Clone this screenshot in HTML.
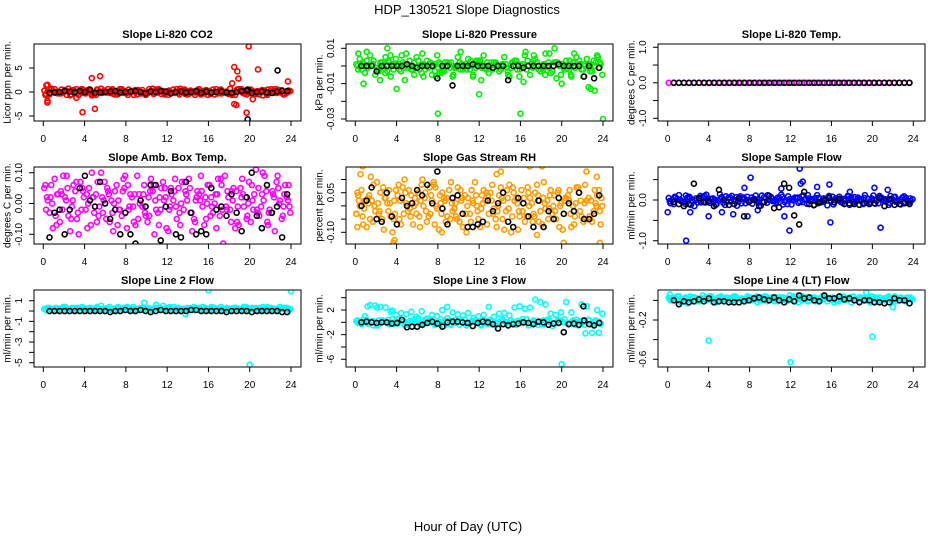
<!DOCTYPE html>
<html><head><meta charset="utf-8"><style>
body{margin:0;background:#fff;}
svg{display:block;font-family:"Liberation Sans",Arial,sans-serif;}
</style></head><body>
<svg id="chart" width="936" height="540" viewBox="0 0 936 540" xmlns="http://www.w3.org/2000/svg">
<rect width="936" height="540" fill="#fff"/>
<text x="467" y="14" font-size="13" text-anchor="middle">HDP_130521  Slope Diagnostics</text>
<text x="468" y="531" font-size="13" text-anchor="middle">Hour of Day (UTC)</text>
</svg>
<script>
// ---- data (value arrays; band arrays at half-hour spacing) ----
const xTicks=[0,4,8,12,16,20,24];
// Panel 1: CO2 (tenths of ppm)
const co2A=[3,-5,6,-2,4,-7,1,5,-3,2,-6,7,-1,3,-4,6,-2,1,-5,4,-3,7,-1,2,-6,5,-2,3,-4,1,6,-3,2,-5,4,-1,7,-6,3,-2,5,-4,1,-3,6,-2,4,-1];
const co2B=[-4,7,-2,5,-6,1,-3,6,2,-5,4,-1,6,-4,3,-2,5,-6,2,-1,6,-3,4,-5,1,-2,7,-4,3,-1,-5,4,-2,6,-3,1,-6,5,-1,3,-4,2,-7,5,-2,1,-5,3];
const co2C=[1,2,-3,-1,7,4,-6,-2,5,-4,1,3,-2,-5,6,2,-1,4,-3,-6,2,5,-4,1,-2,6,3,-5,-1,4,2,-6,5,-3,1,-4,-2,6,-3,4,1,-5,3,-2,6,-1,-4,2];
const co2D=[-6,4,0,-3,2,-5,6,-1,3,-7,5,-2,0,6,-5,3,-6,2,4,-3,0,-4,6,-2,3,-1,-5,5,2,-6,1,3,-4,0,5,-2,-4,1,6,-5,2,-2,4,-6,1,5,-3,0];
const co2OutX=[0.4,0.4,0.4,3.8,4.7,5,5.5,3.2,18.3,18.5,18.5,18.7,18.8,18.9,19.7,19.9,20.3,20.8,23.7,0.3];
const co2OutY=[15,-18,-22,-42,29,-35,33,-12,18,52,-25,-27,43,28,-43,95,-15,47,22,14];
const co2Black=[-2,-1,0,2,1,-1,2,0,5,-2,-1,0,1,2,-1,0,1,2,0,-3,1,0,2,1,-3,0,1,-1,0,2,-2,1,-1,0,1,-1,-2,0,2,3,-2,0,1,-1,-2,1,2,2];
const co2BOutX=[19.8,22.7,19.8];
const co2BOutY=[-57,45,5];
// Panel 2: pressure (thousandths kPa)
const prA=[1,-2,3,0,-1,2,-3,1,0,2,-1,-2,3,1,-1,0,2,-3,1,-1,2,0,-2,1,3,-1,0,2,-2,1,-1,3,0,-2,1,2,-1,0,-3,2,1,-1,2,0,-2,1,3,-1];
const prB=[-2,1,0,3,-3,-1,2,0,-2,1,3,-1,0,-2,2,1,-3,0,2,-1,1,-2,0,3,-1,2,-2,0,1,-3,2,1,-1,0,3,-2,1,-1,2,0,-2,3,-1,1,0,-3,2,1];
const prC=[4,-4,6,-5,2,5,-6,4,-3,7,-2,5,-4,3,-5,6,-3,2,-6,5,-2,4,-5,3,6,-4,2,-3,5,-6,3,-2,6,-5,4,-3,7,-4,2,-5,3,-6,5,-2,4,-3,6,-5];
const prD=[0,2,-1,1,-2,0,3,-2,1,-1,0,2,-2,0,1,-3,1,2,-1,0,-2,1,3,-1,0,-2,2,1,0,-1,2,-2,1,3,-1,0,-2,2,0,1,-1,-2,0,3,1,-1,0,2];
const prOutX=[0.3,0.8,1.1,2.4,2.9,3.1,3.4,4,4.5,4.8,5.7,6.5,6.6,7.8,8,8.3,9.5,10.2,11.4,12,12.2,14.8,15.9,16,16.3,16.5,17.3,18.4,18.8,19.3,19.5,20,20.9,21.2,22.1,22.6,22.8,23.2,23.5,24];
const prOutY=[7,-10,8,-8,-4,10,6,-13,6,-8,-5,7,-6,-6,-27,-4,-5,8,-6,-16,-8,-5,-6,-27,-9,8,6,-5,7,10,-7,-10,-5,7,-6,-12,-13,-14,5,-30];
const prBlack=[0,0,0,-3,0,0,0,0,0,1,0,-1,0,0,0,-7,0,0,-11,0,0,0,1,0,0,0,-1,0,0,-8,0,0,-1,0,0,0,0,0,0,1,0,0,0,0,-6,0,-7,-1];
// Panel 3: Li-820 temp (degC)
const ltA=[0,0,0,0,0,0,0,0,0,0,0,0,0,0,0,0,0,0,0,0,0,0,0,0,0,0,0,0,0,0,0,0,0,0,0,0,0,0,0,0,0,0,0,0,0,0,0,0];
const ltBlack=[0,0,0,0,0,0,0,0,0,0,0,0,0,0,0,0,0,0,0,0,0,0,0,0,0,0,0,0,0,0,0,0,0,0,0,0,0,0,0,0,0,0,0,0,0,0,0,0];
// Panel 4: amb box temp (hundredths degC)
const btA=[5,-3,8,-6,2,-9,4,7,-2,-7,3,10,-5,1,6,-4,-8,2,9,-1,-6,4,-3,7,-9,1,5,-2,8,-5,3,-7,6,0,-4,9,-2,-8,5,2,-6,11,-1,4,-3,7,-5,2];
const btB=[-2,6,-7,3,9,-1,-5,5,-8,2,7,-3,4,-9,1,8,-2,-6,3,6,-4,-10,2,5,-1,8,-7,4,-3,1,9,-5,2,-8,6,-2,4,-6,8,-4,1,-3,10,-7,3,5,-1,6];
const btC=[1,-8,3,9,-4,6,-10,2,5,-3,-1,7,-6,4,-2,9,3,-7,1,-4,8,-2,5,-8,3,-5,7,1,-9,4,-1,6,-3,8,-13,2,5,-7,-1,7,3,-4,9,-2,-9,1,6,-3];
const btD=[6,2,-4,4,1,-5,7,-2,3,10,-6,2,5,-3,-7,4,6,-1,-5,3,2,6,-7,1,-2,4,-3,7,5,-6,1,2,-4,3,8,-1,-6,4,2,-5,6,-2,3,-6,4,9,-4,1];
const btE=[2,0,3,-2,5,1,-3,4,0,2,-4,1,3,0,-2,5,-1,3,0,-3,4,1,-2,2,5,-1,0,3,-3,2,4,0,-1,3,-2,4,1,-1,3,0,-2,5,1,-3,2,0,3,-1];
const btBlack=[-11,-3,-2,-10,-2,-14,5,9,1,-1,7,0,-5,-2,-10,-3,-10,-13,1,-1,6,6,-12,-1,4,-10,-11,7,-3,-10,-9,-10,5,-2,-1,-4,3,-3,-9,2,10,-4,-8,6,-3,-1,-11,3];
// Panel 5: gas stream RH (hundredths %)
const rhA=[-3,6,-8,2,9,-5,1,-10,4,7,-2,-7,5,0,-4,8,-9,3,6,-1,-6,4,-3,9,-8,2,5,-5,7,-2,-10,3,6,-4,1,8,-7,2,-3,5,-9,4,0,7,-6,3,-2,6];
const rhB=[4,-7,1,8,-3,-9,6,2,-5,10,-1,3,-8,5,-3,7,1,-6,9,-4,2,-10,6,0,4,-7,8,-2,-5,3,7,-9,1,5,-3,-6,9,-1,4,-8,2,6,-4,-2,8,-5,1,-7];
const rhC=[0,2,-5,-2,5,3,-4,6,-7,1,4,-3,8,-6,2,-1,5,-4,-2,7,-8,3,1,-5,6,-3,-1,4,-9,8,2,-4,-6,3,5,-2,-1,6,-5,1,3,-8,7,-4,2,-6,4,0];
const rhD=[5,-4,3,-6,1,7,-2,-5,8,-3,6,0,-4,3,7,-7,4,2,-5,1,6,-3,-6,4,-1,5,2,-8,3,6,-4,1,-2,7,-6,4,3,-5,0,6,-3,2,-7,5,1,-4,6,-2];
const rhE=[2,-1,4,0,-2,3,1,-3,2,5,-4,1,2,-2,4,0,-3,3,1,-5,3,0,2,-2,1,4,-3,0,2,-1,5,-2,3,0,-4,2,1,4,-2,0,3,-3,1,2,-5,2,0,3];
const rhOutX=[0.2,0.5,0.7,1.5,3.7,7.6,13.7,14.1,16.9,18.1,22.4,23.4,23.7,12.8,3.8,20.2,0.1,6.5,8.4,17.6];
const rhOutY=[-8,12,15,11,-14,9,12,13,15,15,13,11,-14,-17,-13,-14,-3,10,-10,-11];
const rhBlack=[0,2,7,-5,-6,5,-4,-7,3,0,1,6,4,8,1,13,-1,-7,3,4,-3,-8,-8,-7,-6,2,-2,1,5,-6,-8,3,1,-4,-8,2,-8,-2,-5,3,-3,1,-2,5,-5,-5,-3,4];
// Panel 6: sample flow (hundredths mL/min)
const sfA=[5,-10,12,-4,8,-15,3,10,-7,1,14,-12,6,-3,9,-8,-1,11,-14,4,7,-6,13,-2,-11,5,9,-9,2,12,-5,-13,8,0,-7,10,-4,6,-10,3,11,-8,1,-12,7,-3,9,-6];
const sfB=[-8,6,-2,11,-12,4,-6,13,2,-10,7,-4,10,-14,3,8,-9,1,-5,12,-3,6,-11,9,-1,-7,11,4,-13,5,-2,10,-6,8,3,-12,7,-1,12,-5,-9,6,2,10,-4,-11,5,-2];
const sfC=[0,3,-5,6,-2,-6,8,-3,4,-1,-7,5,1,-4,6,-2,3,-6,7,0,-3,4,-5,2,6,-4,1,-2,5,-6,3,-1,4,-5,2,7,-3,1,-6,4,-2,5,-1,3,-4,6,-3,2];
const sfD=[-3,8,1,-9,5,-1,10,-6,3,-12,2,9,-4,7,-8,0,6,-3,11,-7,4,-1,8,-10,2,6,-5,12,-2,-8,4,7,-11,3,-1,9,-6,2,5,-9,0,10,-3,-7,8,1,-5,4];
const sfOutX=[0,1.8,4,6.4,7.8,8.1,11.9,11.4,12.9,13,13.2,14.6,15.8,15.9,20.8,20.2,17.8,2.2,8.8,21.5,7.5,11.1,5.3];
const sfOutY=[-30,-100,-40,-35,-40,55,-75,-40,77,40,45,32,38,-55,-68,30,20,-30,-25,25,30,28,-30];
const sfBlack=[-5,-10,-15,-10,40,5,-5,-3,-15,25,0,-12,-10,5,-40,-5,0,-15,-5,10,-20,-18,40,30,-38,-60,20,-10,-12,-5,0,5,-5,3,-10,-8,-10,-12,-8,-10,-8,5,-15,2,-12,-10,-8,-10];
// Panel 7: line 2 flow (tenths mL/min)
const l2A=[2,3,1,2,4,2,3,1,2,3,2,5,2,1,3,2,4,2,1,3,2,2,3,5,2,1,3,2,2,4,3,1,2,3,2,1,2,3,2,4,2,3,1,2,3,2,2,3];
const l2B=[1,2,3,2,1,3,2,4,1,2,3,2,1,2,4,3,2,1,2,8,2,3,1,2,4,2,1,-3,2,3,1,2,4,2,1,3,2,2,1,3,2,1,4,2,1,2,3,1];
const l2C=[3,1,2,4,2,1,3,2,3,1,2,2,4,1,2,3,1,2,3,2,1,6,2,3,1,2,2,3,1,2,4,1,3,2,2,1,3,2,4,1,2,3,2,1,2,4,3,2];
const l2D=[2,2,3,1,3,2,1,3,2,2,4,1,3,2,1,2,3,4,2,1,3,2,2,1,3,4,2,1,3,2,2,3,1,2,4,2,1,3,2,2,3,1,2,4,2,1,3,2];
const l2OutX=[16,20,24];
const l2OutY=[20,-52,19];
const l2Black=[0,0,0,0,0,0,0,0,0,0,0,0,-1,0,0,1,0,0,1,0,-1,0,1,0,0,0,0,0,1,1,0,0,0,0,0,-1,0,0,0,0,-1,0,0,0,0,0,-1,-1];
// Panel 8: line 3 flow (tenths mL/min)
const l3A=[2,-3,4,0,-5,3,-1,5,-2,1,-4,2,6,-3,0,4,-2,-6,3,1,-4,5,-1,2,-3,0,4,-5,2,-1,3,-4,1,5,-2,0,-3,4,-6,2,1,-2,3,-5,0,4,-3,1];
const l3B=[-1,4,-2,-5,3,1,-3,0,5,-4,2,-1,-3,4,0,-2,5,1,-4,-1,3,-5,2,0,4,-3,1,-2,5,-4,0,2,-1,-5,3,1,-3,4,-2,0,5,-1,-4,2,1,-3,3,-2];
const l3D=[3,0,-2,2,-4,1,4,-3,0,2,-1,5,-2,1,3,-4,0,2,-3,4,1,-2,0,3,-5,2,1,-1,4,0,-3,2,5,-1,0,-4,3,1,-2,4,0,-3,2,1,-4,3,0,-2];
const l3C=[0,10,28,27,25,24,17,12,15,13,17,9,18,6,12,10,20,7,16,13,11,15,7,10,12,25,9,14,15,11,24,26,22,24,37,33,29,14,12,16,33,16,4,29,26,-17,20,14];
const l3OutX=[20,22.3,23.6,1.2,2.1,3.6,8.9];
const l3OutY=[-68,-18,-17,26,24,19,25];
const l3Black=[0,1,0,-1,0,0,-2,-1,4,-8,-7,-7,-4,-1,1,-2,-7,0,1,1,0,-1,-6,-1,1,0,-3,-10,-3,-5,-3,-2,0,-1,-3,1,0,-4,-2,-1,-16,-3,-2,-4,3,-3,-5,-1];
const l3BOutX=[22.1];
const l3BOutY=[26];
// Panel 9: line 4 flow (hundredths mL/min)
const l4A=[3,1,4,2,0,3,-1,2,4,1,3,0,2,4,1,-1,3,2,0,4,1,3,2,-1,2,4,0,3,1,2,4,-1,3,0,2,1,4,2,0,3,1,-1,2,4,3,0,2,1];
const l4B=[0,2,-2,3,1,-1,2,0,4,-2,1,3,-1,2,0,4,1,-2,3,2,0,-1,3,1,4,-2,2,0,3,-1,1,2,-2,4,0,3,1,-1,2,-2,3,0,1,2,-1,3,0,2];
const l4C=[2,4,1,-3,3,2,5,1,-1,3,0,2,4,-2,1,3,2,0,4,1,-1,3,2,5,0,2,1,3,-1,2,4,1,0,3,2,-2,1,3,0,4,2,1,3,-1,2,0,3,1];
const l4D=[1,3,0,2,4,-1,1,3,2,0,4,1,-1,3,2,1,0,4,2,-1,3,1,0,2,3,1,4,-1,2,0,3,2,1,-1,4,2,0,3,1,2,-1,3,0,1,4,2,-1,3];
const l4OutX=[0.2,4,12,19.4,20,22];
const l4OutY=[6,-41,-63,8,-37,-7];
const l4Black=[0,-4,-1,-2,-1,1,-1,2,-2,-1,-1,-2,-2,-2,-1,0,2,3,1,0,3,0,-2,1,-1,5,2,3,0,-1,5,2,2,4,1,2,0,-2,0,0,-2,-2,-3,-2,2,0,0,-3];

// ---- layout ----
const NS="http://www.w3.org/2000/svg";
const svg=document.getElementById('chart');
const cols=[{l:34,r:301,x0:43.3,x24:291,tc:7},{l:346,r:613,x0:355.3,x24:603,tc:319},{l:658,r:925,x0:667.7,x24:913.3,tc:631}];
const rows=[{t:44,b:121},{t:167,b:244},{t:290,b:367}];
function mk(tag,attrs,parent){const e=document.createElementNS(NS,tag);for(const k in attrs)e.setAttribute(k,attrs[k]);(parent||svg).appendChild(e);return e;}

const panels=[
 {name:'co2',title:'Slope Li-820 CO2',ylab:'Licor ppm per min.',c:0,r:0,color:'#ff0000',scale:0.1,v1:5,p1:68,v2:-5,p2:116,ticks:[-5,0,5],labels:{'-5':'-5','0':'0','5':'5'},bands:[co2A,co2B,co2C,co2D],ox:co2OutX,oy:co2OutY,black:co2Black,bx:co2BOutX,by:co2BOutY},
 {name:'pressure',title:'Slope Li-820 Pressure',ylab:'kPa per min.',c:1,r:0,color:'#00ee00',scale:0.001,v1:0.01,p1:48.3,v2:-0.03,p2:119,ticks:[-0.03,-0.02,-0.01,0,0.01],labels:{'-0.03':'-0.03','-0.01':'-0.01','0.01':'0.01'},bands:[prA,prB,prC,prD],ox:prOutX,oy:prOutY,black:prBlack},
 {name:'li820-temp',title:'Slope Li-820 Temp.',ylab:'degrees C per min.',c:2,r:0,color:'#ff00ff',scale:1,v1:1,p1:47.3,v2:-1,p2:118.3,ticks:[-1,-0.5,0,0.5,1],labels:{'-1':'-1.0','0':'0.0','1':'1.0'},bands:[ltA],black:ltBlack},
 {name:'box-temp',title:'Slope Amb. Box Temp.',ylab:'degrees C per min.',c:0,r:1,color:'#ff00ff',scale:0.01,v1:0.1,p1:172.7,v2:-0.1,p2:234.3,ticks:[-0.1,-0.05,0,0.05,0.1],labels:{'-0.1':'-0.10','0':'0.00','0.1':'0.10'},bands:[btA,btB,btC,btD,btE],black:btBlack},
 {name:'gas-rh',title:'Slope Gas Stream RH',ylab:'percent per min.',c:1,r:1,color:'#ff9a00',scale:0.01,v1:0.05,p1:192.7,v2:-0.1,p2:232.3,ticks:[-0.1,-0.05,0,0.05,0.1],labels:{'-0.1':'-0.10','0.05':'0.05'},bands:[rhA,rhB,rhC,rhD,rhE],ox:rhOutX,oy:rhOutY,black:rhBlack},
 {name:'sample-flow',title:'Slope Sample Flow',ylab:'ml/min per min.',c:2,r:1,color:'#0000ff',scale:0.01,v1:0,p1:200,v2:-1,p2:240.7,ticks:[-1,-0.5,0,0.5],labels:{'-1':'-1.0','0':'0.0'},bands:[sfA,sfB,sfC,sfD],ox:sfOutX,oy:sfOutY,black:sfBlack},
 {name:'line2-flow',title:'Slope Line 2 Flow',ylab:'ml/min per min.',c:0,r:2,color:'#00ffff',scale:0.1,v1:1,p1:300.7,v2:-5,p2:362.7,ticks:[-5,-4,-3,-2,-1,0,1],labels:{'-5':'-5','-3':'-3','-1':'-1','1':'1'},bands:[l2A,l2B,l2C,l2D],ox:l2OutX,oy:l2OutY,black:l2Black},
 {name:'line3-flow',title:'Slope Line 3 Flow',ylab:'ml/min per min.',c:1,r:2,color:'#00ffff',scale:0.1,v1:2,p1:310,v2:-6,p2:359.3,ticks:[-6,-4,-2,0,2,4],labels:{'-6':'-6','-2':'-2','2':'2'},bands:[l3A,l3B,l3C,l3D],ox:l3OutX,oy:l3OutY,black:l3Black,bx:l3BOutX,by:l3BOutY},
 {name:'line4-flow',title:'Slope Line 4 (LT) Flow',ylab:'ml/min per min.',c:2,r:2,color:'#00ffff',scale:0.01,v1:-0.2,p1:320,v2:-0.6,p2:359.3,ticks:[-0.6,-0.4,-0.2,0],labels:{'-0.6':'-0.6','-0.2':'-0.2'},bands:[l4A,l4B,l4C,l4D],ox:l4OutX,oy:l4OutY,black:l4Black}
];

panels.forEach(p=>{
  const C=cols[p.c],R=rows[p.r];
  const xs=v=>C.x0+(C.x24-C.x0)*v/24;
  const ys=v=>p.p1+(p.p2-p.p1)*(v-p.v1)/(p.v2-p.v1);
  const g=mk('g',{});
  
  
  const t=mk('text',{x:(C.l+C.r)/2,y:R.t-6,'font-size':11,'font-weight':'bold','text-anchor':'middle'},g);
  t.textContent=p.title;
  
  
  const yl=mk('text',{x:C.tc,y:(R.t+R.b)/2,'font-size':10,'text-anchor':'middle',transform:`rotate(-90 ${C.tc} ${(R.t+R.b)/2})`,dy:'0.35em'},g);
  yl.textContent=p.ylab;
  
  
  const cid='clip-'+p.name;
  const cp=mk('clipPath',{id:cid},g);mk('rect',{x:C.l,y:R.t,width:C.r-C.l,height:R.b-R.t},cp);
  const pts=mk('g',{'clip-path':`url(#${cid})`,fill:'none'},g);
  
  
  const offs=[0.1,0.27,0.43,0.2,0.35];
  p.bands.forEach((arr,bi)=>{
    arr.forEach((v,i)=>{
      const c=mk('circle',{cx:xs(i*0.5+offs[bi%5]),cy:ys(v*p.scale),r:2.5,stroke:p.color,'stroke-width':1.6},pts);
      
      
    });
  });
  if(p.ox){p.ox.forEach((x,i)=>{
    const c=mk('circle',{cx:xs(x),cy:ys(p.oy[i]*p.scale),r:2.5,stroke:p.color,'stroke-width':1.6},pts);
    
    
  });}
  p.black.forEach((v,i)=>{
    const c=mk('circle',{cx:xs(0.6+i*0.49),cy:ys(v*p.scale),r:2.5,stroke:'#000','stroke-width':1.6},pts);
    
    
  });
  if(p.bx){p.bx.forEach((x,i)=>{
    const c=mk('circle',{cx:xs(x),cy:ys(p.by[i]*p.scale),r:2.5,stroke:'#000','stroke-width':1.6},pts);
    
    
  });}
  const bx=mk('rect',{x:C.l,y:R.t,width:C.r-C.l,height:R.b-R.t,fill:'none',stroke:'#000','stroke-width':1},g);
  
  
  const xa=mk('g',{'font-size':10,'text-anchor':'middle'},g);
  
  
  mk('line',{x1:xs(0),x2:xs(24),y1:R.b,y2:R.b,stroke:'#000'},xa);
  xTicks.forEach(v=>{
    mk('line',{x1:xs(v),x2:xs(v),y1:R.b,y2:R.b+5,stroke:'#000'},xa);
    const tl=mk('text',{x:xs(v),y:R.b+21},xa);tl.textContent=v;
    
    
  });
  const ya=mk('g',{'font-size':10,'text-anchor':'middle'},g);
  
  
  const tmin=Math.min(...p.ticks),tmax=Math.max(...p.ticks);
  mk('line',{x1:C.l,x2:C.l,y1:ys(tmin),y2:ys(tmax),stroke:'#000'},ya);
  p.ticks.forEach(v=>{
    const y=ys(v);
    mk('line',{x1:C.l-5,x2:C.l,y1:y,y2:y,stroke:'#000'},ya);
    const lab=p.labels[String(v)];
    if(lab){
      const tx=C.l-12;
      const tl=mk('text',{x:tx,y:y,transform:`rotate(-90 ${tx} ${y})`},ya);tl.textContent=lab;
      
      
    }
  });
});
</script>
</body></html>
